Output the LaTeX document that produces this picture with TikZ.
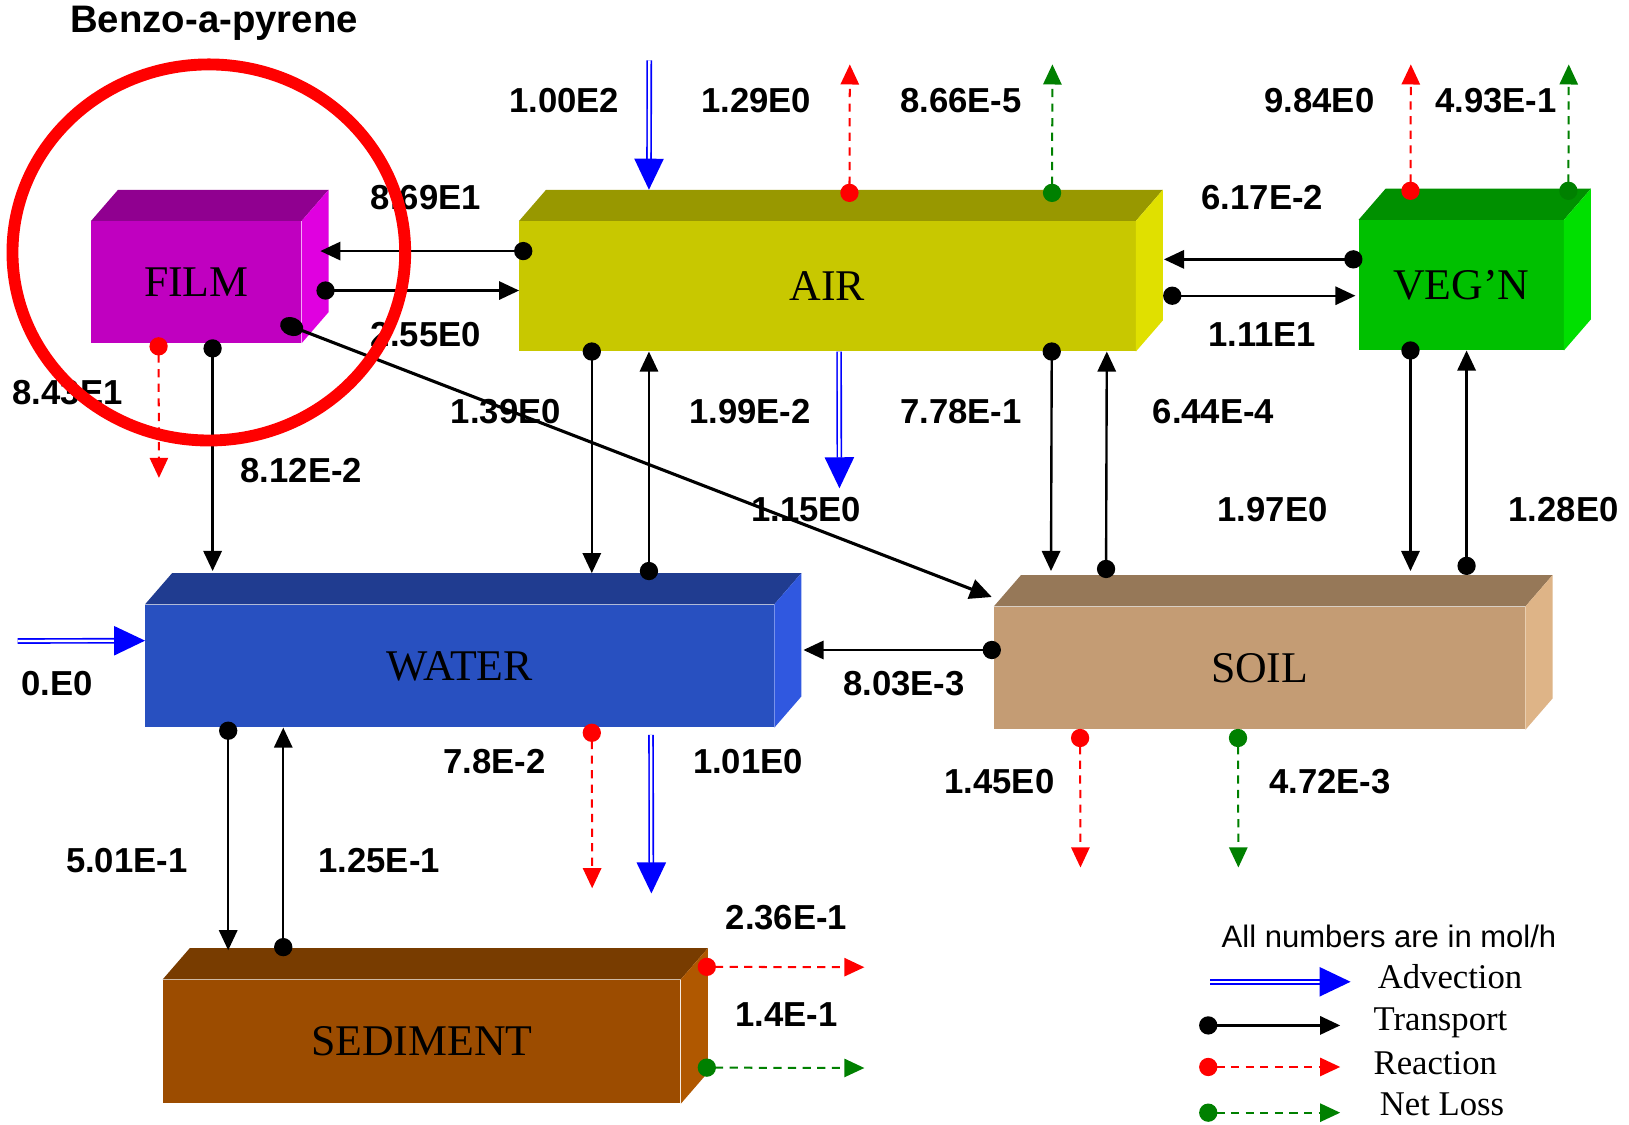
\documentclass[tikz,border=0pt]{standalone}
\usepackage{fontspec}
\setmainfont{Liberation Serif}
\newfontfamily\numfont{Liberation Sans}
\usetikzlibrary{arrows.meta,calc}
\newlength\pix
\setlength\pix{0.02cm}
\definecolor{frontfilm}{HTML}{C000C0}\definecolor{topfilm}{HTML}{900090}\definecolor{sidefilm}{HTML}{E000E0}
\definecolor{frontair}{HTML}{C8C800}\definecolor{topair}{HTML}{989800}\definecolor{sideair}{HTML}{E0E000}
\definecolor{frontvegn}{HTML}{00C000}\definecolor{topvegn}{HTML}{009000}\definecolor{sidevegn}{HTML}{00E000}
\definecolor{frontwater}{HTML}{2850C0}\definecolor{topwater}{HTML}{203C90}\definecolor{sidewater}{HTML}{3058E0}
\definecolor{frontsoil}{HTML}{C49C74}\definecolor{topsoil}{HTML}{967858}\definecolor{sidesoil}{HTML}{DEB487}
\definecolor{frontsed}{HTML}{9C4C00}\definecolor{topsed}{HTML}{783C00}\definecolor{sidesed}{HTML}{B05800}
\definecolor{netgreen}{HTML}{008000}
\begin{document}
\begin{tikzpicture}[x=0.02cm, y=-0.02cm,
  box/.style={rectangle, inner sep=0pt, font=\fontsize{24}{24}\selectfont},
  num/.style={font=\numfont\bfseries\fontsize{19}{19}\selectfont},
  legtext/.style={anchor=west, font=\fontsize{19}{19}\selectfont},
  transport/.style={black, line width=1.3pt, shorten <=-5pt, {Circle[length=10pt]}-{Triangle[length=11pt,width=10pt]}},
  reaction/.style={red, line width=1.1pt, dash pattern=on 4.5pt off 3.5pt, shorten <=-5pt, {Circle[length=10pt]}-{Triangle[length=11pt,width=10pt]}},
  netloss/.style={reaction, netgreen},
  advection/.style={blue, line width=0.9pt, double=white, double distance=1.3pt, -{Triangle[length=17pt,width=16pt]}}]
\fill[white] (0,0) rectangle (1568,1082);
\useasboundingbox (0,0) rectangle (1568,1082);

% compartments
\node[box, fill=frontfilm, minimum width=202\pix, minimum height=117\pix] (film) at (189,271.5) {FILM};
\node[box, fill=frontair, minimum width=593\pix, minimum height=125\pix] (air) at (796.5,275.5) {AIR};
\node[box, fill=frontvegn, minimum width=197\pix, minimum height=125\pix] (vegn) at (1406.5,274.5) {VEG’N};
\node[box, fill=frontwater, minimum width=605\pix, minimum height=118\pix] (water) at (442.5,641) {WATER};
\node[box, fill=frontsoil, minimum width=511\pix, minimum height=118\pix] (soil) at (1212.5,643) {SOIL};
\node[box, fill=frontsed, minimum width=498\pix, minimum height=119\pix] (sed) at (406,1002.5) {SEDIMENT};
\foreach \b in {film,air,vegn,water,soil,sed} {
  \fill[top\b] (\b.north west) -- ++(26,-30) -- ($(\b.north east)+(26,-30)$) -- (\b.north east) -- cycle;
  \fill[side\b] (\b.north east) -- ++(26,-30) -- ($(\b.south east)+(26,-30)$) -- (\b.south east) -- cycle;
}

% free ends
\coordinate (airin) at (625,58);
\coordinate (airrx) at (818,62);
\coordinate (airnl) at (1013,62);
\coordinate (vegrx) at (1358,62);
\coordinate (vegnl) at (1510,62);
\coordinate (filmrx) at (153,460);
\coordinate (airout) at (808,470);
\coordinate (waterin) at (17,617);
\coordinate (waterrx) at (570,855);
\coordinate (waterout) at (627,860);
\coordinate (soilrx) at (1040,835);
\coordinate (soilnl) at (1192,835);
\coordinate (sedrx) at (832,931);
\coordinate (sednl) at (832,1028);

% transport
\draw[transport] ($(air.north west)+(4,29)$) -- ($(film.north east)+(18,29)$);
\draw[transport] ($(film.north east)+(23,67)$) -- ($(air.north west)+(0,67)$);
\draw[transport, line width=1.7pt, {Circle[length=13pt,width=10pt]}-{Triangle[length=12pt,width=11pt]}] ($(film.south east)+(-12,-17)$) -- ($(soil.north west)+(-2,-9)$);
\draw[transport] ($(film.south west)+(117,5)$) -- ($(water.north west)+(65,-32)$);
\draw[transport] ($(air.south west)+(70,0)$) -- ($(water.north west)+(430,-30)$);
\draw[transport] ($(water.north west)+(485,-32)$) -- ($(air.south west)+(125,0)$);
\draw[transport] ($(air.south east)+(-81,0)$) -- ($(soil.north west)+(55,-34)$);
\draw[transport] ($(soil.north west)+(108,-36)$) -- ($(air.south east)+(-28,0)$);
\draw[transport] ($(air.north east)+(35,72)$) -- ($(vegn.north west)+(-3,73)$);
\draw[transport] ($(vegn.north west)+(-5,38)$) -- ($(air.north east)+(27,37)$);
\draw[transport] ($(vegn.south west)+(50,0)$) -- ($(soil.north west)+(401,-34)$);
\draw[transport] ($(soil.north west)+(455,-39)$) -- ($(vegn.south west)+(104,0)$);
\draw[transport] ($(soil.north west)+(-2,42)$) -- ($(water.north east)+(28,44)$);
\draw[transport] ($(water.south west)+(80,3)$) -- ($(sed.north west)+(63,-28)$);
\draw[transport] ($(sed.north west)+(116,-31)$) -- ($(water.south west)+(133,0)$);

% advection
\draw[advection] (airin) -- ($(air.north west)+(125,-30)$);
\draw[advection] ($(air.south west)+(308,0)$) -- (airout);
\draw[advection] (waterin) -- ($(water.north west)+(0,35)$);
\draw[advection] ($(water.south west)+(487,7)$) -- (waterout);

% reaction and net loss
\draw[reaction] ($(film.south west)+(65,3)$) -- (filmrx);
\draw[reaction] ($(air.north west)+(318,-27)$) -- (airrx);
\draw[netloss] ($(air.north west)+(513,-27)$) -- (airnl);
\draw[reaction] ($(vegn.north west)+(50,-28)$) -- (vegrx);
\draw[netloss] ($(vegn.north west)+(202,-28)$) -- (vegnl);
\draw[reaction] ($(water.south west)+(430,5)$) -- (waterrx);
\draw[reaction] ($(soil.south west)+(83,8)$) -- (soilrx);
\draw[netloss] ($(soil.south west)+(235,8)$) -- (soilnl);
\draw[reaction] ($(sed.north east)+(25,-12)$) -- (sedrx);
\draw[netloss] ($(sed.north east)+(25,85)$) -- (sednl);

% flow values
\node[font=\numfont\bfseries\fontsize{21}{21}\selectfont] (title) at (206,22) {Benzo-a-pyrene};
\node[num] (vairfilm) at (410,190) {8.69E1};
\node[num] (vfilmair) at (410,322) {2.55E0};
\node[num] (vfilmrx) at (65,378) {8.43E1};
\node[num] (vfilmwater) at (290,453) {8.12E-2};
\node[num] (vairwater) at (487,396) {1.39E0};
\node[num] (vwaterair) at (722,396) {1.99E-2};
\node[num] (vairout) at (776,490) {1.15E0};
\node[num] (vairsoil) at (925,396) {7.78E-1};
\node[num] (vsoilair) at (1168,396) {6.44E-4};
\node[num] (vvegsoil) at (1225,490) {1.97E0};
\node[num] (vsoilveg) at (1505,490) {1.28E0};
\node[num] (vairin) at (543,97) {1.00E2};
\node[num] (vairrx) at (728,97) {1.29E0};
\node[num] (vairnl) at (925,97) {8.66E-5};
\node[num] (vvegrx) at (1270,97) {9.84E0};
\node[num] (vvegnl) at (1440,97) {4.93E-1};
\node[num] (vvegair) at (1215,190) {6.17E-2};
\node[num] (vairveg) at (1215,322) {1.11E1};
\node[num] (vwaterin) at (55,658) {0.E0};
\node[num] (vsoilwater) at (870,658) {8.03E-3};
\node[num] (vwaterrx) at (476,733) {7.8E-2};
\node[num] (vwaterout) at (720,733) {1.01E0};
\node[num] (vsoilrx) at (962,752) {1.45E0};
\node[num] (vsoilnl) at (1280,752) {4.72E-3};
\node[num] (vwatersed) at (122,828) {5.01E-1};
\node[num] (vsedwater) at (365,828) {1.25E-1};
\node[num] (vsedrx) at (757,883) {2.36E-1};
\node[num] (vsednl) at (757,977) {1.4E-1};

% legend
\node[font=\numfont\fontsize{17}{17}\selectfont] (units) at (1337,901) {All numbers are in mol/h};
\node[legtext] (ladv) at (1320,940) {Advection};
\node[legtext] (ltra) at (1316,985) {Transport};
\node[legtext] (lrx) at (1316,1023) {Reaction};
\node[legtext] (lnl) at (1322,1063) {Net Loss};
\draw[advection] ($(ladv.west)+(-155,5)$) -- ($(ladv.west)+(-20,5)$);
\draw[transport] ($(ltra.west)+(-153,2)$) -- ($(ltra.west)+(-26,2)$);
\draw[reaction] ($(lrx.west)+(-153,4)$) -- ($(lrx.west)+(-26,4)$);
\draw[netloss] ($(lnl.west)+(-159,8)$) -- ($(lnl.west)+(-32,8)$);

% highlight
\draw[red, line width=6.5pt] (201,243) ellipse [x radius=189, y radius=181];
\end{tikzpicture}
\end{document}
